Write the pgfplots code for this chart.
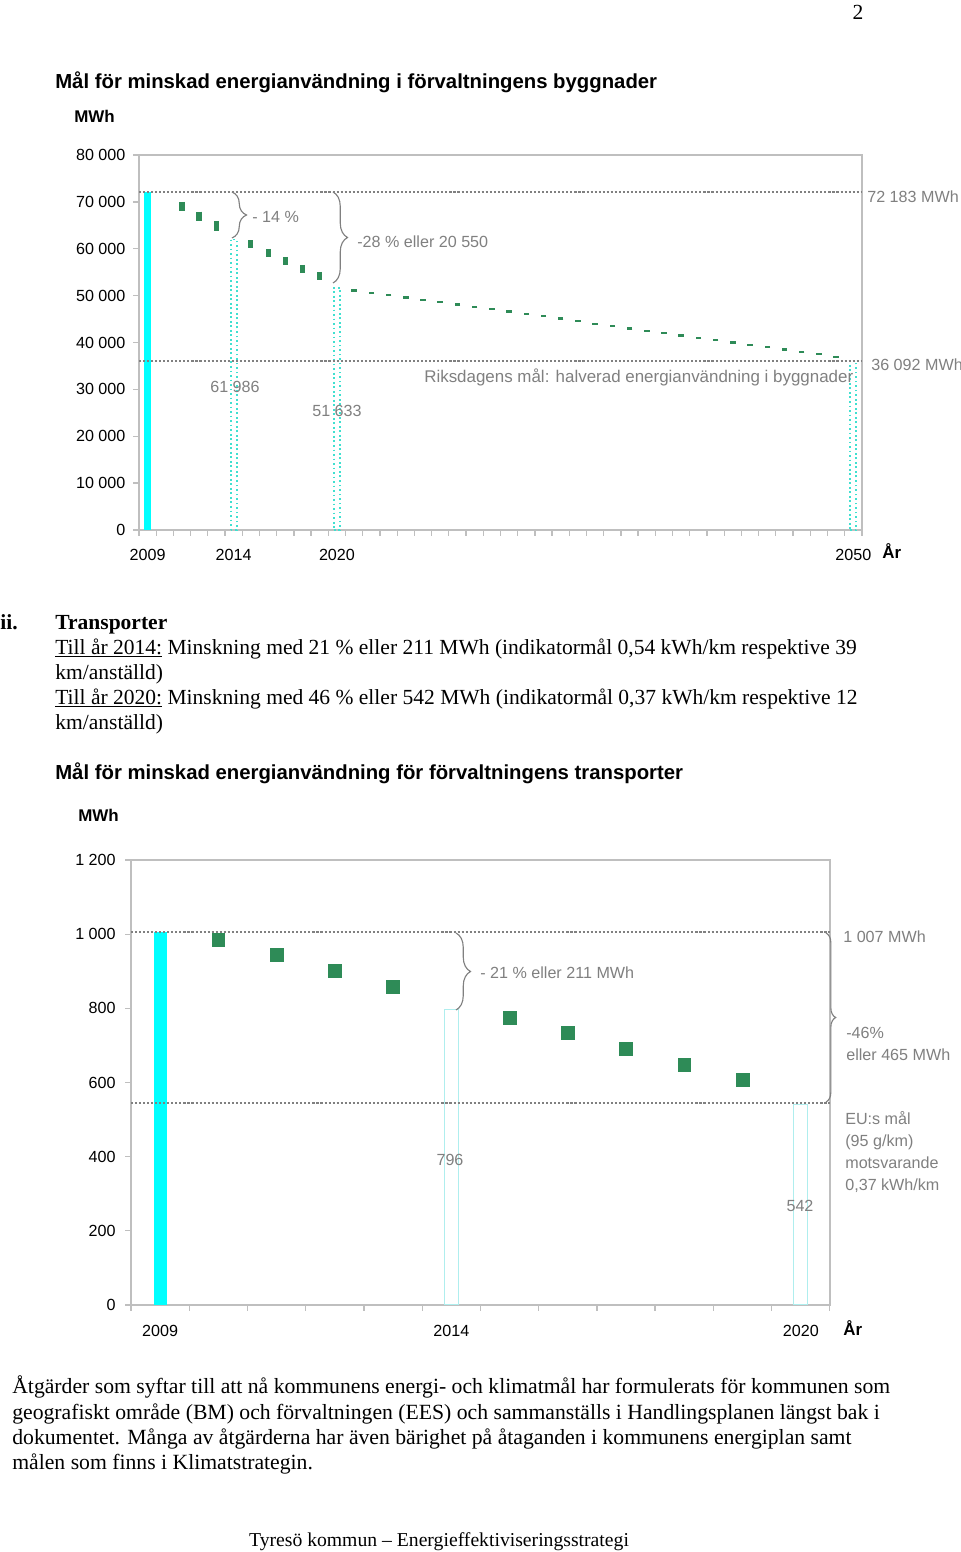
\documentclass[border=0pt]{standalone}
\usepackage{fontspec}
\setmainfont{Liberation Serif}
\newfontfamily\arial{Liberation Sans}
\usepackage{pgfplots}
\pgfplotsset{compat=1.18}
\usetikzlibrary{decorations.pathreplacing}
\definecolor{cyanbar}{RGB}{0,255,255}
\definecolor{turq}{RGB}{64,224,208}
\definecolor{mkgreen}{RGB}{46,139,87}
\definecolor{refgray}{RGB}{128,128,128}
\definecolor{axgray}{RGB}{191,191,191}
\definecolor{txtgray}{RGB}{128,128,128}
\definecolor{ltcyan}{RGB}{175,238,238}
\newcommand{\bodyf}{\fontsize{13.35}{15}\selectfont}
\newcommand{\parf}{\fontsize{13.45}{15}\selectfont}
\newcommand{\chf}{\arial\fontsize{10}{12}\selectfont}
\newcommand{\ttf}{\arial\bfseries\fontsize{12.6}{14}\selectfont}
\pgfplotsset{
  myaxis/.style={
    scale only axis, anchor=south west,
    axis line style={axgray, line width=0.9pt},
    tick style={axgray, line width=0.8pt},
    tick align=outside, tick pos=left,
    major tick length=3.5pt,
    ticklabel style={font=\chf, text=black},
    scaled y ticks=false,
    /pgf/number format/assume math mode=true,
    clip=false,
  }
}
\begin{document}
\begin{tikzpicture}
\fill[white] (0,0) rectangle (595.3pt,-962.4pt);
\useasboundingbox (0,0) rectangle (595.3pt,-962.4pt);

% ---------- top chart ----------
\begin{axis}[myaxis,
  at={(86.19pt,-328.65pt)}, width=448.3pt, height=232.5pt,
  xmin=2008.5, xmax=2050.5, ymin=0, ymax=80000,
  xtick={2008.5,2009.5,...,2050.5}, xticklabels={},
  extra x ticks={2009,2014,2020,2050}, extra x tick labels={2009,2014,2020,2050},
  extra x tick style={major tick length=0pt, tick label style={yshift=-8.5pt}},
  ytick={0,10000,...,80000},
  yticklabels={0,10 000,20 000,30 000,40 000,50 000,60 000,70 000,80 000},
  yticklabel style={xshift=-1.4pt},
]
\addplot[ybar, bar width=4.3pt, fill=cyanbar, draw=none] coordinates {(2009,72183)};
\addplot[ybar, bar width=3.7pt, draw=turq, line width=1.1pt, dash pattern=on 1.1pt off 1.7pt, fill=none]
  coordinates {(2014,61986) (2020,51633) (2050,36092)};
\addplot[refgray, line width=1.3pt, dash pattern=on 1.3pt off 1.2pt] coordinates {(2008.5,72183) (2050.5,72183)};
\addplot[refgray, line width=1.3pt, dash pattern=on 1.3pt off 1.2pt] coordinates {(2008.5,36092) (2050.5,36092)};
\addplot[only marks, mark=|, mark size=3pt, mark options={draw=mkgreen, line width=3.5pt}]
  coordinates {(2011,69000) (2012,66900) (2013,64900)};
\addplot[only marks, mark=|, mark size=2.5pt, mark options={draw=mkgreen, line width=3.2pt}]
  coordinates {(2015,61000) (2016,59100) (2017,57400) (2018,55700) (2019,54200)};
\addplot[only marks, mark=-, mark size=1.7pt, mark options={draw=mkgreen, line width=1.5pt}]
  coordinates {(2021,51100) (2022,50600) (2023,50100) (2024,49600) (2025,49100) (2026,48600)
  (2027,48100) (2028,47600) (2029,47100) (2030,46600) (2031,46100) (2032,45600) (2033,45100)
  (2034,44600) (2035,44000) (2036,43500) (2037,43000) (2038,42500) (2039,42000) (2040,41500)
  (2041,41000) (2042,40500) (2043,40000) (2044,39500) (2045,39000) (2046,38500) (2047,38000)
  (2048,37500) (2049,36900)};
\end{axis}

% ---------- bottom chart ----------
\begin{axis}[myaxis,
  at={(81.23pt,-809.2pt)}, width=433.4pt, height=275.9pt,
  xmin=2008.5, xmax=2020.5, ymin=0, ymax=1200,
  xtick={2008.5,2009.5,...,2020.5}, xticklabels={},
  extra x ticks={2009,2014,2020}, extra x tick labels={2009,2014,2020},
  extra x tick style={major tick length=0pt, tick label style={yshift=-9pt}},
  ytick={0,200,...,1200},
  yticklabels={0,200,400,600,800,1 000,1 200},
  yticklabel style={xshift=-2.5pt},
]
\addplot[ybar, bar width=8.06pt, fill=cyanbar, draw=none] coordinates {(2009,1007)};
\addplot[ybar, bar width=8.7pt, draw=ltcyan, line width=0.6pt, fill=none]
  coordinates {(2014,796) (2020,542)};
\addplot[refgray, line width=1.3pt, dash pattern=on 1.3pt off 1.2pt] coordinates {(2008.5,1007) (2020.5,1007)};
\addplot[refgray, line width=1.3pt, dash pattern=on 1.3pt off 1.2pt] coordinates {(2008.5,545) (2020.5,545)};
\addplot[only marks, mark=square*, mark size=4pt, color=mkgreen, mark options={draw=mkgreen, fill=mkgreen}]
  coordinates {(2010,985) (2011,944) (2012,901) (2013,858) (2015,774) (2016,734) (2017,690) (2018,647) (2019,607)};
\end{axis}

\begin{scope}[x=0.6201pt, y=-0.6201pt, every node/.style={inner sep=0pt, yshift=-2.2pt}]
\node[anchor=mid] at (858,12) {\bodyf 2};
% top chart texts
\node[anchor=mid west] at (55,81) {\ttf Mål för minskad energianvändning i förvaltningens byggnader};
\node[anchor=mid west] at (74,115) {\arial\bfseries\fontsize{10.5}{12}\selectfont MWh};
\node[anchor=mid west, text=txtgray] at (867,195) {\chf 72 183 MWh};
\node[anchor=mid west, text=txtgray] at (871,363) {\chf 36 092 MWh};
\node[anchor=mid west, text=txtgray] at (252,215) {\chf - 14 \%};
\node[anchor=mid west, text=txtgray] at (357,240) {\chf -28 \% eller 20 550};
\node[anchor=mid west, text=txtgray] at (424,375) {\arial\fontsize{10.5}{12}\selectfont Riksdagens mål: halverad energianvändning i byggnader};
\node[anchor=mid, text=txtgray] at (235,385) {\chf 61 986};
\node[anchor=mid, text=txtgray] at (337,409) {\chf 51 633};
\node[anchor=mid west] at (882,551) {\arial\bfseries\fontsize{10.5}{12}\selectfont År};
\draw[decorate, decoration={brace, amplitude=9pt}, txtgray, line width=0.7pt] (232,192) -- (232,238);
\draw[decorate, decoration={brace, amplitude=9pt}, txtgray, line width=0.7pt] (333,192) -- (333,283);
% body text
\node[anchor=mid west] at (0,622) {\bodyf\bfseries ii.};
\node[anchor=mid west] at (55,622) {\bodyf\bfseries Transporter};
\node[anchor=mid west] at (55,647) {\bodyf \underline{Till år 2014:} Minskning med 21 \% eller 211 MWh (indikatormål 0,54 kWh/km respektive 39};
\node[anchor=mid west] at (55,672) {\bodyf km/anställd)};
\node[anchor=mid west] at (55,697) {\bodyf \underline{Till år 2020:} Minskning med 46 \% eller 542 MWh (indikatormål 0,37 kWh/km respektive 12};
\node[anchor=mid west] at (55,722) {\bodyf km/anställd)};
% bottom chart texts
\node[anchor=mid west] at (55,772) {\ttf Mål för minskad energianvändning för förvaltningens transporter};
\node[anchor=mid west] at (78,814) {\arial\bfseries\fontsize{10.5}{12}\selectfont MWh};
\node[anchor=mid west, text=txtgray] at (843,935) {\chf 1 007 MWh};
\node[anchor=mid west, text=txtgray] at (480,971) {\chf - 21 \% eller 211 MWh};
\node[anchor=mid west, text=txtgray] at (846,1031) {\chf -46\%};
\node[anchor=mid west, text=txtgray] at (846,1053) {\chf eller 465 MWh};
\node[anchor=mid west, text=txtgray] at (845,1117) {\chf EU:s mål};
\node[anchor=mid west, text=txtgray] at (845,1139) {\chf (95 g/km)};
\node[anchor=mid west, text=txtgray] at (845,1161) {\chf motsvarande};
\node[anchor=mid west, text=txtgray] at (845,1183) {\chf 0,37 kWh/km};
\node[anchor=mid, text=txtgray] at (450,1158) {\chf 796};
\node[anchor=mid, text=txtgray] at (800,1204) {\chf 542};
\node[anchor=mid west] at (843,1328) {\arial\bfseries\fontsize{10.5}{12}\selectfont År};
\draw[decorate, decoration={brace, amplitude=9pt}, txtgray, line width=0.7pt] (456,933) -- (456,1010);
\draw[decorate, decoration={brace, amplitude=6pt}, txtgray, line width=0.7pt] (826,933) -- (826,1102);
% bottom paragraph
\node[anchor=mid west] at (12,1386) {\parf Åtgärder som syftar till att nå kommunens energi- och klimatmål har formulerats för kommunen som};
\node[anchor=mid west] at (12,1412) {\parf geografiskt område (BM) och förvaltningen (EES) och sammanställs i Handlingsplanen längst bak i};
\node[anchor=mid west] at (12,1437) {\parf dokumentet. Många av åtgärderna har även bärighet på åtaganden i kommunens energiplan samt};
\node[anchor=mid west] at (12,1462) {\parf målen som finns i Klimatstrategin.};
\node[anchor=mid] at (439,1539) {\fontsize{12.2}{14}\selectfont Tyresö kommun – Energieffektiviseringsstrategi};
\end{scope}
\end{tikzpicture}
\end{document}
